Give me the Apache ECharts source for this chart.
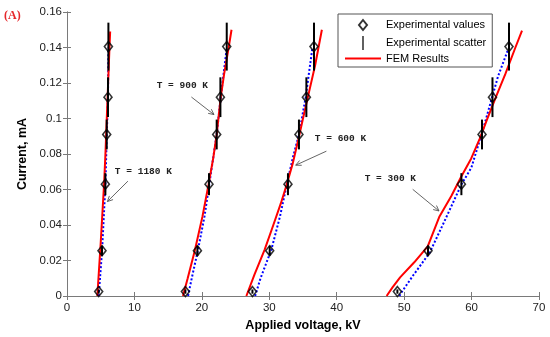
<!DOCTYPE html>
<html><head><meta charset="utf-8">
<script src="https://cdn.jsdelivr.net/npm/echarts@6/dist/echarts.min.js"></script>
<style>html,body{margin:0;padding:0;background:#fff}#c{width:550px;height:337px}</style>
</head><body><div id="c"></div>
<script>
// ---- data (kV, mA) ----
const currentLevels = [0.0025, 0.0255, 0.063, 0.091, 0.112, 0.1405];
const scatterHalf   = [0.0012, 0.0028, 0.0062, 0.0084, 0.0112, 0.0135];
const expV1180 = [4.70, 5.19, 5.69, 5.89, 6.08, 6.14];
const expV900  = [17.56, 19.34, 21.06, 22.20, 22.75, 23.69];
const expV600  = [27.50, 30.06, 32.77, 34.40, 35.50, 36.63];
const expV300  = [49.00, 53.54, 58.49, 61.55, 63.10, 65.55];

const fem1180 = [[4.5,0],[4.75,0.015],[5.0,0.03],[5.3,0.05],[5.5,0.063],[5.7,0.08],[5.9,0.1],[6.1,0.12],[6.3,0.14],[6.4,0.149]];
const fem900  = [[17.2,0],[17.9,0.01],[18.95,0.0255],[20.1,0.045],[21.0,0.063],[21.7,0.078],[22.2,0.091],[22.8,0.112],[23.3,0.125],[24.0,0.1405],[24.4,0.15]];
const fem600  = [[26.6,0],[27.8,0.012],[29.3,0.026],[30.6,0.04],[31.7,0.052],[32.6,0.063],[33.5,0.075],[34.3,0.088],[35.0,0.1],[35.9,0.115],[36.8,0.13],[37.8,0.15]];
const fem300  = [[47.4,0],[48.3,0.005],[49.4,0.0105],[51.5,0.019],[53.5,0.028],[55.2,0.0445],[57.0,0.0563],[58.5,0.0675],[59.95,0.0775],[61.2,0.0885],[62.3,0.0995],[63.6,0.112],[65.0,0.125],[66.5,0.14],[67.48,0.1495]];

const fit1180 = [[4.7,0],[5.2,0.0255],[5.7,0.063],[5.9,0.091],[6.08,0.112],[6.14,0.14]];
const fit900  = [[17.95,0],[18.5,0.01],[19.4,0.0255],[20.4,0.045],[21.1,0.063],[22.2,0.091],[22.8,0.112],[23.7,0.14]];
const fit600  = [[27.9,0],[28.7,0.01],[30.3,0.026],[31.6,0.045],[32.6,0.063],[33.5,0.078],[34.4,0.091],[35.4,0.112],[36.4,0.14]];
const fit300  = [[49.3,0],[49.6,0.002],[51.3,0.0114],[53.8,0.0245],[56.0,0.0423],[58.5,0.0629],[59.97,0.0723],[61.7,0.0938],[63.92,0.1237],[65.4,0.1387]];

const tempLabels = ['T = 1180 K','T = 900 K','T = 600 K','T = 300 K'];
const labelAt    = [[7.1,0.0695],[13.3,0.1181],[36.76,0.0882],[44.15,0.0657]];
const arrowFrom  = [[9.03,0.0647],[18.45,0.1121],[38.47,0.0816],[51.27,0.0601]];
const arrowTo    = [[5.99,0.0532],[21.8,0.1022],[33.92,0.0737],[55.17,0.0479]];

const xMin = 0, xMax = 70, xStep = 10;
const yMin = 0, yMax = 0.16, yStep = 0.02;

// ---- build ----
const expSets = [expV1180, expV900, expV600, expV300];
const expPoints = [];
const errPoints = [];
expSets.forEach(vs => vs.forEach((v, i) => {
  expPoints.push([v, currentLevels[i]]);
  errPoints.push([v, currentLevels[i] - scatterHalf[i], currentLevels[i] + scatterHalf[i]]);
}));

const axisCol = '#7a7a7a';
const chart = echarts.init(document.getElementById('c'));
const femLine = d => ({name:'FEM Results', type:'line', data:d, symbol:'none', z:3,
  lineStyle:{color:'#ff0000', width:2}, itemStyle:{color:'#ff0000'}});
const fitLine = d => ({name:'fit', type:'line', data:d, symbol:'none', z:2,
  lineStyle:{color:'#0000ff', width:2, type:[2,2]}, itemStyle:{color:'#0000ff'}});

const baseX = {type:'value', min:xMin, max:xMax, interval:xStep,
  axisLine:{show:true, lineStyle:{color:axisCol, width:1}},
  axisTick:{show:true, inside:true, length:4, lineStyle:{color:axisCol}},
  splitLine:{show:false}};
const baseY = {type:'value', min:yMin, max:yMax, interval:yStep,
  axisLine:{show:true, lineStyle:{color:axisCol, width:1}},
  axisTick:{show:true, inside:true, length:4, lineStyle:{color:axisCol}},
  splitLine:{show:false}};

chart.setOption({
  animation:false,
  backgroundColor:'#fff',
  grid:{left:67, right:11, top:12, bottom:40},
  xAxis:[
    Object.assign({}, baseX, {position:'bottom', name:'Applied voltage, kV', nameLocation:'middle', nameGap:23,
      nameTextStyle:{fontFamily:'Arial, Liberation Sans', fontSize:12.5, fontWeight:'bold', color:'#000'},
      axisLabel:{fontFamily:'Arial, Liberation Sans', fontSize:11.5, color:'#222', margin:6}}),
    Object.assign({}, baseX, {position:'top', axisLabel:{show:false}})
  ],
  yAxis:[
    Object.assign({}, baseY, {position:'left', name:'Current, mA', nameLocation:'middle', nameGap:38,
      nameTextStyle:{fontFamily:'Arial, Liberation Sans', fontSize:12.5, fontWeight:'bold', color:'#000'},
      axisLabel:{fontFamily:'Arial, Liberation Sans', fontSize:11.5, color:'#222', margin:5,
        formatter: v => String(+v.toFixed(2))}}),
    Object.assign({}, baseY, {position:'right', axisLabel:{show:false}})
  ],
  legend:{
    orient:'vertical', left:338, top:14, padding:[3,6,3,7], itemGap:3,
    itemWidth:36, itemHeight:14, backgroundColor:'#fff',
    borderColor:'#555', borderWidth:1, borderRadius:0,
    textStyle:{fontFamily:'Arial, Liberation Sans', fontSize:11, color:'#000'},
    data:[
      {name:'Experimental values', icon:'path://M0,0 M7,2 L11,7 L7,12 L3,7 Z M14,14'},
      {name:'Experimental scatter', icon:'path://M0,0 L1.6,0 L1.6,18 L0,18 Z'},
      {name:'FEM Results', icon:'path://M0,0 L36,0 L36,2 L0,2 Z', itemStyle:{color:'#ff0000', borderWidth:0}}
    ]
  },
  series:[
    fitLine(fit1180), fitLine(fit900), fitLine(fit600), fitLine(fit300),
    femLine(fem1180), femLine(fem900), femLine(fem600), femLine(fem300),
    {name:'Experimental scatter', type:'custom', z:4, data:errPoints,
      itemStyle:{color:'#000'},
      encode:{x:0, y:[1,2]},
      renderItem:(params, api) => {
        const a = api.coord([api.value(0), api.value(1)]);
        const b = api.coord([api.value(0), api.value(2)]);
        return {type:'line', shape:{x1:a[0], y1:a[1], x2:b[0], y2:b[1]},
          style:{stroke:'#000', lineWidth:2}};
      }},
    {name:'Experimental values', type:'scatter', z:5, data:expPoints,
      symbol:'diamond', symbolSize:[8,10],
      itemStyle:{color:'rgba(255,255,255,0)', borderColor:'#000', borderWidth:1.6}}
  ]
});

// annotations anchored in data coordinates
const g = [];
tempLabels.forEach((t, i) => {
  const p = chart.convertToPixel({gridIndex:0}, labelAt[i]);
  g.push({type:'text', left:p[0], top:p[1]-6, z:10,
    style:{text:t, font:'bold 9.5px "Liberation Mono", "Courier New", monospace', fill:'#222'}});
  const a = chart.convertToPixel({gridIndex:0}, arrowFrom[i]);
  const b = chart.convertToPixel({gridIndex:0}, arrowTo[i]);
  const ang = Math.atan2(b[1]-a[1], b[0]-a[0]);
  const L = 6, w = 0.45;
  const h1 = [b[0]-L*Math.cos(ang-w), b[1]-L*Math.sin(ang-w)];
  const h2 = [b[0]-L*Math.cos(ang+w), b[1]-L*Math.sin(ang+w)];
  g.push({type:'line', z:10, shape:{x1:a[0], y1:a[1], x2:b[0], y2:b[1]}, style:{stroke:'#555', lineWidth:0.9}});
  g.push({type:'polyline', z:10, shape:{points:[h1, b, h2]}, style:{stroke:'#555', lineWidth:0.9, fill:null}});
});
g.push({type:'text', left:4, top:10, z:10,
  style:{text:'(A)', font:'bold 12px "Liberation Serif", "Times New Roman", serif', fill:'#e5262a'}});
chart.setOption({graphic:g});
</script></body></html>
